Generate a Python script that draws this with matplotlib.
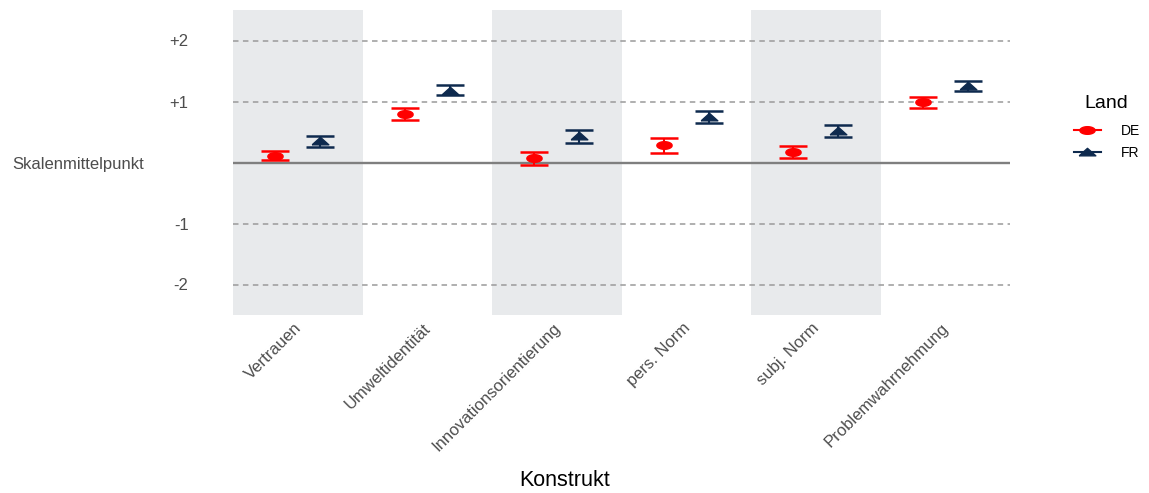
import matplotlib
matplotlib.use("Agg")
import matplotlib.pyplot as plt
import matplotlib.transforms as mtransforms
from matplotlib.lines import Line2D
import numpy as np

plt.rcParams['font.family'] = ['Liberation Sans', 'DejaVu Sans']

categories = ["Vertrauen", "Umweltidentität", "Innovationsorientierung",
              "pers. Norm", "subj. Norm", "Problemwahrnehmung"]
countries = ["DE", "FR"]
de_mean = [0.11, 0.80, 0.07, 0.28, 0.17, 0.99]
de_low = [0.04, 0.69, -0.04, 0.16, 0.07, 0.90]
de_high = [0.19, 0.90, 0.17, 0.40, 0.27, 1.08]
fr_mean = [0.36, 1.18, 0.44, 0.75, 0.52, 1.26]
fr_low = [0.26, 1.10, 0.32, 0.64, 0.42, 1.18]
fr_high = [0.44, 1.27, 0.53, 0.84, 0.61, 1.34]
y_ticks = [-2, -1, 0, 1, 2]
y_ticklabels = ["-2", "-1", "Skalenmittelpunkt", "+1", "+2"]

col_de = "#FF0000"
col_fr = "#0E2A4E"

# wide (flattened) marker shapes as in the reference
t = np.linspace(0, 2 * np.pi, 40)
ellipse = list(zip(np.cos(t), 0.5 * np.sin(t)))
wide_tri = [(-1, -0.4), (1, -0.4), (0, 0.5), (-1, -0.4)]

fig = plt.figure(figsize=(11.49, 4.93), dpi=100)
ax = fig.add_axes([233/1149, 1 - 315/493, (1010-233)/1149, (315-10)/493])

x = np.arange(1, len(categories) + 1)
for i, xi in enumerate(x):
    if i % 2 == 0:
        ax.axvspan(xi - 0.5, xi + 0.5, color="#E8EAEC", lw=0, zorder=0)

for yv in [-2, -1, 1, 2]:
    ax.axhline(yv, color="#9A9A9A", ls=(0, (3.6, 2.9)), lw=1.1, zorder=1)
ax.axhline(0, color="#7F7F7F", lw=1.7, zorder=1)

off = 0.175
de_m = np.array(de_mean); fr_m = np.array(fr_mean)
ax.errorbar(x - off, de_m, yerr=[de_m - np.array(de_low), np.array(de_high) - de_m],
            fmt='none', ecolor=col_de, elinewidth=1.5, capsize=10, capthick=1.8, zorder=3)
ax.errorbar(x + off, fr_m, yerr=[fr_m - np.array(fr_low), np.array(fr_high) - fr_m],
            fmt='none', ecolor=col_fr, elinewidth=1.5, capsize=10, capthick=1.8, zorder=3)
ax.plot(x - off, de_m, ls='none', marker=ellipse, color=col_de, ms=11, zorder=4)
ax.plot(x + off, fr_m, ls='none', marker=wide_tri, color=col_fr, ms=12, zorder=4)

ax.set_xlim(0.5, 6.5)
ax.set_ylim(-2.5, 2.5)
ax.set_xticks(x)
ax.set_xticklabels(categories, rotation=45, ha='right', va='top', rotation_mode='anchor',
                   fontsize=12, color="#4D4D4D")
ax.set_yticks(y_ticks)
ax.set_yticklabels(y_ticklabels, fontsize=12, color="#4D4D4D")
ax.tick_params(axis='x', length=0, pad=4)
ax.tick_params(axis='y', length=0, pad=32)
for s in ax.spines.values():
    s.set_visible(False)

xoff = mtransforms.ScaledTranslation(-4/100, 0, fig.dpi_scale_trans)
for lab in ax.get_xticklabels():
    lab.set_transform(lab.get_transform() + xoff)
ylab = ax.get_yticklabels()[2]
ylab.set_transform(ylab.get_transform() + mtransforms.ScaledTranslation(-45/100, 0, fig.dpi_scale_trans))

ax.set_xlabel("Konstrukt", fontsize=15.5, color="black", va='center')
ax.xaxis.set_label_coords((565 - 233) / 777, (315 - 481) / 305)

handles = [Line2D([0], [0], color=col_de, marker=ellipse, ms=11, lw=1.5),
           Line2D([0], [0], color=col_fr, marker=wide_tri, ms=12, lw=1.5)]
leg = fig.legend(handles, countries, title="Land", loc='upper left',
                 bbox_to_anchor=(1061/1149, 1 - 82/493), frameon=False,
                 fontsize=10, title_fontsize=14, handlelength=2.0, handletextpad=1.4,
                 labelspacing=0.6, alignment='center')
leg._legend_box.sep = 9

fig.savefig("out.png", dpi=100)
